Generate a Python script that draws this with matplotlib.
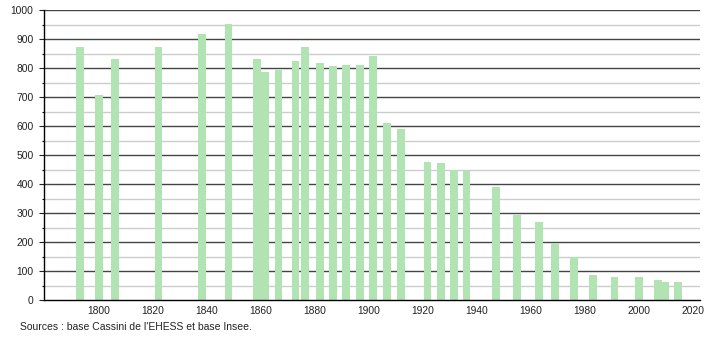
import matplotlib.pyplot as plt
import numpy as np

# census years (bar centres) and population
years = [1793, 1800, 1806, 1822, 1838, 1848, 1858.5, 1861.5, 1866.5, 1872.8,
         1876.2, 1882, 1886.7, 1891.5, 1896.7, 1901.6, 1906.7, 1911.8,
         1921.7, 1926.6, 1931.5, 1936.2, 1947, 1955, 1963, 1969, 1976,
         1983, 1991, 2000, 2007, 2009.6, 2014.5]
population = [871, 708, 831, 871, 916, 953, 831, 785, 792, 823,
              872, 816, 808, 812, 812, 843, 609, 591,
              477, 473, 449, 446, 388, 292, 268, 195, 148,
              87, 78, 78, 68, 63, 63]
xticks = [1800, 1820, 1840, 1860, 1880, 1900, 1920, 1940, 1960, 1980, 2000, 2020]
source = "Sources : base Cassini de l'EHESS et base Insee."

plt.rcParams["font.family"] = ["Liberation Sans", "DejaVu Sans"]

fig = plt.figure(figsize=(7.1, 3.4), dpi=100)
ax = fig.add_axes([44 / 710, 40 / 340, 656 / 710, 290 / 340])

# grid: dark lines every 100, light lines every 50
for y in np.arange(50, 1000, 100):
    ax.axhline(y, color="#cccccc", lw=1.0, zorder=1)
for y in np.arange(100, 1001, 100):
    ax.axhline(y, color="#444444", lw=1.0, zorder=1)

ax.bar(years, population, width=2.9, color="#b2e3b2", zorder=2)

ax.set_xlim(1779.6, 2022.7)
ax.set_ylim(0, 1000)
ax.set_xticks(xticks)
ax.set_yticks(np.arange(0, 1001, 100))
ax.set_yticks(np.arange(50, 1000, 100), minor=True)
ax.tick_params(axis="x", length=0, pad=4, labelsize=7.4, colors="#222222")
ax.tick_params(axis="y", which="major", length=3.6, width=0.8, pad=4,
               labelsize=7.4, colors="#222222")
ax.tick_params(axis="y", which="minor", length=1.5, width=0.8)

for side in ["top", "right"]:
    ax.spines[side].set_visible(False)
ax.spines["left"].set_linewidth(1.0)
ax.spines["bottom"].set_linewidth(1.0)

fig.text(20 / 710, 1 - 327 / 340, source, fontsize=7.5, color="#222222",
         va="center", ha="left")

fig.savefig("out.png", dpi=100)
